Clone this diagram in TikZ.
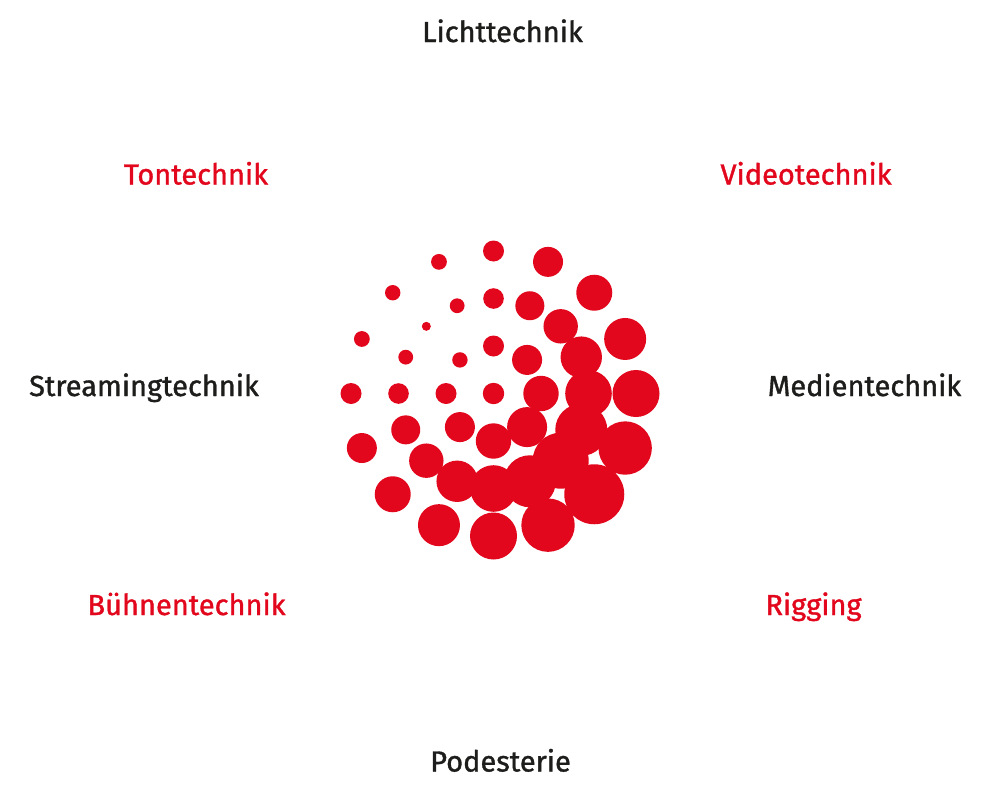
\documentclass[tikz,border=0pt]{standalone}
\usepackage{fontspec}
\setmainfont{Fira Sans}
\newfontfamily\lblfont{Fira Sans}[FakeBold=1.2]
\definecolor{brandred}{HTML}{E2071C}
\definecolor{ink}{HTML}{1D1D1B}
\begin{document}
\begin{tikzpicture}[x=1pt,y=-1pt,
  lbl/.style={font=\lblfont\fontsize{29}{34}\selectfont, inner sep=0pt, anchor=base},
  blk/.style={lbl, text=ink},
  rd/.style={lbl, text=brandred},
  dot/.style={fill=brandred}]
\useasboundingbox (0,0) rectangle (1000,800);
\fill[white] (0,0) rectangle (1000,800);
% dots
\fill[dot] (493.5,393.5) circle[radius=10.7pt];
\foreach \R/\t/\r in {
  47.5/225/7.7, 47.5/180/10.5, 47.5/270/10.5, 47.5/135/15, 47.5/315/15,
  47.5/90/17.7, 47.5/0/17.7, 47.5/45/20,
  95/225/4.5, 95/202.5/7.4, 95/247.5/7.4, 95/180/10.3, 95/270/10.3,
  95/157.5/14.5, 95/292.5/14.5, 95/135/17.2, 95/315/17.2,
  95/112.5/20.7, 95/337.5/20.7, 95/90/23.3, 95/0/23.3,
  95/67.5/26, 95/22.5/26, 95/45/28,
  142.5/225/7.7, 142.5/202.5/7.9, 142.5/247.5/7.9, 142.5/180/10.5, 142.5/270/10.5,
  142.5/157.5/15, 142.5/292.5/15, 142.5/135/18, 142.5/315/18,
  142.5/112.5/21, 142.5/337.5/21, 142.5/90/23.5, 142.5/0/23.5,
  142.5/67.5/26.7, 142.5/22.5/26.7, 142.5/45/30}
  {\fill[dot] ({493.5+\R*cos(\t)},{393.5+\R*sin(\t)}) circle[radius=\r pt];}
% labels
\node[blk] (licht) at (502.5,42) {Lichttechnik};
\node[rd] (ton) at (196,184.5) {Tontechnik};
\node[rd] (video) at (806,184.5) {Videotechnik};
\node[blk] (stream) at (144,396) {Streamingtechnik};
\node[blk] (medien) at (864.5,396) {Medientechnik};
\node[rd] (buehne) at (186.5,615) {Bühnentechnik};
\node[rd] (rigging) at (813.5,615) {Rigging};
\node[blk] (podest) at (500.5,771.5) {Podesterie};
\end{tikzpicture}
\end{document}
